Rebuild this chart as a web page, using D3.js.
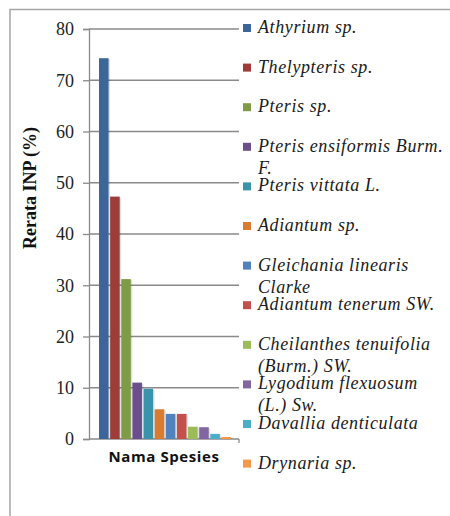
<!DOCTYPE html>
<html><head><meta charset="utf-8">
<script src="https://cdn.jsdelivr.net/npm/d3@7"></script>
<style>
html,body{margin:0;padding:0;background:#fff;}
svg{display:block;}
</style></head>
<body>
<svg id="chart" width="450" height="516"></svg>
<script>
const categories = ["Athyrium sp.","Thelypteris sp.","Pteris sp.","Pteris ensiformis Burm.\nF.","Pteris vittata L.","Adiantum sp.","Gleichania linearis\nClarke","Adiantum tenerum SW.","Cheilanthes tenuifolia\n(Burm.) SW.","Lygodium flexuosum\n(L.) Sw.","Davallia denticulata","Drynaria sp."];
const values = [74.3,47.3,31.2,11.0,9.8,5.8,4.9,4.9,2.4,2.3,1.0,0.4];
const colors = ["#3C6699","#9C3D3A","#7F9B45","#6A4F8D","#3B93AB","#D97B30","#4F82BE","#C4504E","#9CBC5A","#8166A2","#4BADC7","#F79747"];
const yTicks = [0,10,20,30,40,50,60,70,80];
const yTitle = "Rerata INP (%)";
const xTitle = "Nama Spesies";

const svg = d3.select("#chart");
// outer frame (clipped at right and bottom)
svg.append("path").attr("d","M10,516V9.5H450").attr("fill","none").attr("stroke","#a6a6a6").attr("stroke-width",1.5);

const x0 = 89, x1 = 239, yTop = 29, yBot = 439;
const y = d3.scaleLinear().domain([0,80]).range([yBot,yTop]);
const x = d3.scaleBand().domain(categories).range([99,231]).paddingInner(0.14);

// gridlines
svg.append("g").selectAll("line").data(yTicks.filter(t=>t>0)).join("line")
  .attr("x1",x0).attr("x2",x1).attr("y1",d=>y(d)).attr("y2",d=>y(d))
  .attr("stroke","#8a8a8a").attr("stroke-width",1.3);

// y axis
const yAxis = d3.axisLeft(y).tickValues(yTicks).tickSize(6).tickPadding(9);
const gy = svg.append("g").attr("transform",`translate(${x0},0)`).call(yAxis);
gy.select(".domain").attr("stroke","#8a8a8a").attr("stroke-width",1.3);
gy.selectAll(".tick line").attr("stroke","#8a8a8a").attr("stroke-width",1.3);
gy.selectAll(".tick text").attr("font-family","'Liberation Serif',serif").attr("font-size",18).attr("fill","#222");

// x axis line
svg.append("line").attr("x1",x0).attr("x2",x1).attr("y1",yBot).attr("y2",yBot).attr("stroke","#8a8a8a").attr("stroke-width",1.3);
svg.append("line").attr("x1",x1).attr("x2",x1).attr("y1",yBot).attr("y2",yBot+4).attr("stroke","#8a8a8a").attr("stroke-width",1.3);

// bar shadows
svg.append("g").selectAll("rect").data(values).join("rect")
  .attr("x",(d,i)=>x(categories[i])+1.5).attr("y",d=>y(d)+1)
  .attr("width",x.bandwidth()).attr("height",d=>yBot-y(d)-1)
  .attr("fill","#000").attr("opacity",0.12);
// bars
svg.append("g").selectAll("rect").data(values).join("rect")
  .attr("x",(d,i)=>x(categories[i])).attr("y",d=>y(d))
  .attr("width",x.bandwidth()).attr("height",d=>yBot-y(d))
  .attr("fill",(d,i)=>colors[i]);

// axis titles
svg.append("text").attr("transform","translate(36,188) rotate(-90)").attr("text-anchor","middle")
  .attr("font-family","'Liberation Serif',serif").attr("font-weight","bold").attr("font-size",18).attr("fill","#111")
  .text(yTitle);
svg.append("text").attr("x",164).attr("y",462).attr("text-anchor","middle")
  .attr("font-family","'Open Sans',sans-serif").attr("font-weight","bold").attr("font-size",15)
  .attr("letter-spacing",0.6).attr("fill","#111")
  .text(xTitle);

// legend
const lg = svg.append("g");
categories.forEach((c,i)=>{
  const cy = 28 + i*39.6;
  lg.append("rect").attr("x",243).attr("y",cy-4).attr("width",8).attr("height",8).attr("fill",colors[i]);
  const t = lg.append("text").attr("x",258).attr("y",cy+5)
    .attr("font-family","'Liberation Serif',serif").attr("font-style","italic").attr("font-size",18)
    .attr("letter-spacing",0.6).attr("fill","#1a1a1a");
  c.split("\n").forEach((ln,k)=>{
    t.append("tspan").attr("x",258).attr("dy",k===0?0:22).text(ln);
  });
});
</script>
</body></html>
